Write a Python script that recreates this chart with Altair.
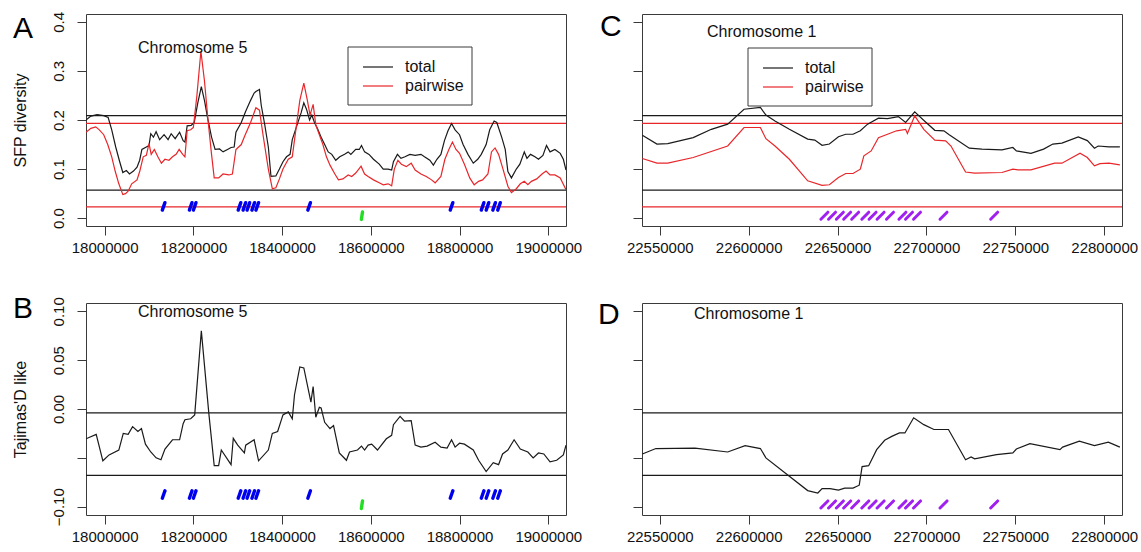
import altair as alt
import pandas as pd

FONT = "Liberation Sans"
BLACK = "#1a1a1a"
RED = "#e8262a"
BOX = "#3a3a3a"
W, H = 480, 212

# ---------------- Panel A (chromosome 5, SFP diversity) ----------------
a_total_pos = [17958000, 17969000, 17983000, 17998000, 18008000, 18016000, 18025000, 18033000, 18041000, 18049000,
               18056000, 18065000, 18073000, 18079000, 18084000, 18094000, 18100000, 18104000, 18110000, 18116000,
               18124000, 18134000, 18143000, 18150000, 18159000, 18169000, 18177000, 18181000, 18186000, 18195000,
               18202000, 18210000, 18218000, 18225000, 18232000, 18241000, 18249000, 18259000, 18267000, 18277000,
               18285000, 18292000, 18296000, 18308000, 18318000, 18329000, 18337000, 18341000, 18349000, 18353000,
               18361000, 18369000, 18375000, 18386000, 18394000, 18402000, 18410000, 18418000, 18423000, 18432000,
               18443000, 18449000, 18455000, 18462000, 18467000, 18473000, 18480000, 18488000, 18496000, 18504000,
               18512000, 18521000, 18530000, 18541000, 18549000, 18555000, 18566000, 18574000, 18579000, 18586000,
               18596000, 18606000, 18619000, 18628000, 18639000, 18647000, 18651000, 18660000, 18668000, 18677000,
               18688000, 18700000, 18713000, 18721000, 18733000, 18741000, 18749000, 18758000, 18766000, 18774000,
               18782000, 18790000, 18800000, 18808000, 18819000, 18831000, 18841000, 18849000, 18860000, 18868000,
               18878000, 18884000, 18895000, 18903000, 18909000, 18917000, 18928000, 18936000, 18946000, 18952000,
               18960000, 18970000, 18978000, 18988000, 18996000, 19004000, 19015000, 19027000, 19034000, 19040000]
a_total = [0.200, 0.208, 0.211, 0.209, 0.205, 0.180, 0.145, 0.118, 0.093, 0.097,
           0.090, 0.096, 0.104, 0.118, 0.140, 0.145, 0.148, 0.172, 0.165, 0.176,
           0.160, 0.170, 0.160, 0.172, 0.162, 0.175, 0.158, 0.155, 0.188, 0.189,
           0.195, 0.235, 0.268, 0.240, 0.205, 0.165, 0.140, 0.141, 0.135, 0.140,
           0.144, 0.145, 0.175, 0.195, 0.218, 0.240, 0.255, 0.258, 0.262, 0.230,
           0.190, 0.145, 0.085, 0.086, 0.100, 0.115, 0.125, 0.130, 0.160, 0.185,
           0.215, 0.235, 0.222, 0.200, 0.210, 0.195, 0.182, 0.165, 0.150, 0.135,
           0.130, 0.118, 0.125, 0.130, 0.135, 0.130, 0.140, 0.140, 0.148, 0.135,
           0.130, 0.120, 0.110, 0.100, 0.100, 0.098, 0.115, 0.130, 0.122, 0.125,
           0.130, 0.128, 0.130, 0.125, 0.118, 0.108, 0.120, 0.130, 0.158, 0.178,
           0.193, 0.180, 0.170, 0.150, 0.130, 0.112, 0.120, 0.130, 0.150, 0.180,
           0.198, 0.195, 0.165, 0.140, 0.095, 0.082, 0.100, 0.110, 0.135, 0.122,
           0.130, 0.125, 0.120, 0.128, 0.148, 0.135, 0.140, 0.132, 0.120, 0.098]

a_pair_pos = [17958000, 17969000, 17980000, 17988000, 17998000, 18007000, 18016000, 18024000, 18032000, 18041000,
              18047000, 18053000, 18061000, 18073000, 18079000, 18087000, 18094000, 18100000, 18105000, 18112000,
              18120000, 18128000, 18136000, 18145000, 18153000, 18161000, 18168000, 18176000, 18181000, 18186000,
              18194000, 18200000, 18208000, 18217000, 18225000, 18233000, 18241000, 18247000, 18257000, 18267000,
              18280000, 18288000, 18296000, 18308000, 18316000, 18329000, 18341000, 18349000, 18357000, 18369000,
              18378000, 18386000, 18394000, 18402000, 18414000, 18423000, 18431000, 18440000, 18449000, 18457000,
              18463000, 18470000, 18476000, 18484000, 18492000, 18500000, 18508000, 18519000, 18527000, 18537000,
              18549000, 18557000, 18566000, 18578000, 18586000, 18594000, 18606000, 18619000, 18628000, 18639000,
              18647000, 18653000, 18661000, 18669000, 18680000, 18691000, 18700000, 18713000, 18725000, 18737000,
              18745000, 18758000, 18767000, 18776000, 18784000, 18792000, 18800000, 18811000, 18823000, 18833000,
              18843000, 18852000, 18864000, 18872000, 18880000, 18888000, 18898000, 18909000, 18917000, 18928000,
              18937000, 18946000, 18954000, 18962000, 18974000, 18986000, 18995000, 19004000, 19015000, 19027000,
              19040000]
a_pair = [0.175, 0.183, 0.186, 0.180, 0.170, 0.150, 0.125, 0.095, 0.070, 0.048,
          0.050, 0.055, 0.070, 0.078, 0.095, 0.125, 0.128, 0.152, 0.130, 0.140,
          0.125, 0.112, 0.120, 0.118, 0.125, 0.130, 0.140, 0.130, 0.125, 0.178,
          0.180, 0.185, 0.250, 0.340, 0.280, 0.200, 0.130, 0.082, 0.082, 0.090,
          0.088, 0.090, 0.140, 0.150, 0.168, 0.195, 0.225, 0.220, 0.170, 0.100,
          0.060, 0.062, 0.080, 0.100, 0.120, 0.125, 0.180, 0.240, 0.275, 0.240,
          0.210, 0.232, 0.190, 0.170, 0.150, 0.125, 0.108, 0.090, 0.078, 0.080,
          0.088, 0.085, 0.092, 0.106, 0.090, 0.085, 0.078, 0.072, 0.068, 0.070,
          0.066, 0.100, 0.118, 0.110, 0.105, 0.112, 0.098, 0.090, 0.085, 0.078,
          0.072, 0.085, 0.120, 0.140, 0.155, 0.140, 0.132, 0.110, 0.082, 0.068,
          0.075, 0.078, 0.090, 0.135, 0.143, 0.130, 0.100, 0.065, 0.052, 0.060,
          0.070, 0.075, 0.068, 0.075, 0.080, 0.090, 0.096, 0.088, 0.088, 0.082,
          0.058]

# ---------------- Panel B (chromosome 5, Tajima's D like) ----------------
b_pos = [17958000, 17981000, 17996000, 18010000, 18032000, 18042000, 18053000, 18063000, 18075000, 18083000,
         18092000, 18104000, 18116000, 18127000, 18136000, 18153000, 18169000, 18177000, 18181000, 18194000,
         18203000, 18218000, 18235000, 18247000, 18257000, 18263000, 18285000, 18290000, 18300000, 18315000,
         18318000, 18337000, 18347000, 18369000, 18378000, 18390000, 18402000, 18414000, 18423000, 18428000,
         18440000, 18449000, 18465000, 18470000, 18476000, 18484000, 18488000, 18496000, 18508000, 18516000,
         18529000, 18545000, 18552000, 18570000, 18579000, 18586000, 18594000, 18602000, 18615000, 18635000,
         18647000, 18651000, 18666000, 18676000, 18691000, 18700000, 18713000, 18727000, 18745000, 18758000,
         18772000, 18782000, 18790000, 18800000, 18811000, 18831000, 18843000, 18860000, 18876000, 18888000,
         18897000, 18909000, 18923000, 18937000, 18954000, 18966000, 18978000, 18990000, 19004000, 19019000,
         19034000, 19040000]
b_taj = [-0.0305, -0.026, -0.053, -0.047, -0.042, -0.025, -0.026, -0.018, -0.023, -0.020,
         -0.036, -0.044, -0.050, -0.052, -0.041, -0.0315, -0.0315, -0.015, -0.011, -0.010,
         -0.006, 0.080, -0.005, -0.058, -0.058, -0.042, -0.057, -0.030, -0.037, -0.045,
         -0.037, -0.0315, -0.053, -0.042, -0.025, -0.023, -0.006, -0.003, -0.010, 0.0146,
         0.043, 0.042, 0.007, 0.023, -0.0085, 0.0017, 0.001, -0.0136, -0.020, -0.017,
         -0.045, -0.0525, -0.044, -0.042, -0.038, -0.042, -0.037, -0.036, -0.042, -0.0305,
         -0.027, -0.016, -0.0075, -0.0125, -0.012, -0.037, -0.039, -0.038, -0.034, -0.039,
         -0.040, -0.0315, -0.039, -0.035, -0.036, -0.042, -0.0525, -0.064, -0.055, -0.057,
         -0.046, -0.042, -0.0315, -0.041, -0.044, -0.050, -0.045, -0.046, -0.054, -0.0525,
         -0.047, -0.037]

# ---------------- Panel C (chromosome 1, SFP diversity) ----------------
c_total_pos = [22540200, 22548400, 22554500, 22568800, 22579000, 22588200, 22597400, 22606600, 22609700, 22614800,
               22622900, 22633200, 22637200, 22641300, 22645400, 22650500, 22654600, 22658700, 22662800, 22666900,
               22673000, 22678100, 22684200, 22688300, 22693400, 22699500, 22704700, 22709800, 22712800, 22724100,
               22731200, 22742500, 22748600, 22750600, 22758800, 22765900, 22771100, 22776200, 22785400, 22790500,
               22794500, 22796600, 22802700, 22808800]
c_total = [0.169, 0.151, 0.152, 0.164, 0.181, 0.1915, 0.222, 0.2255, 0.210, 0.198,
           0.181, 0.161, 0.159, 0.1485, 0.151, 0.166, 0.171, 0.171, 0.178, 0.1915,
           0.2037, 0.203, 0.207, 0.195, 0.2166, 0.196, 0.179, 0.178, 0.170, 0.1426,
           0.1406, 0.139, 0.144, 0.137, 0.132, 0.1406, 0.151, 0.153, 0.1657, 0.158,
           0.1426, 0.147, 0.1453, 0.1453]

c_pair_pos = [22540200, 22548400, 22554500, 22568800, 22588200, 22597400, 22606600, 22609700, 22614800, 22622900,
              22633200, 22641300, 22645400, 22650500, 22654600, 22658700, 22662800, 22664800, 22668900, 22673000,
              22678100, 22683200, 22688300, 22689300, 22693400, 22698500, 22704700, 22710800, 22713800, 22722000,
              22727100, 22742500, 22748600, 22751600, 22758800, 22772100, 22776200, 22786400, 22790500, 22794500,
              22797600, 22802700, 22808800]
c_pair = [0.1216, 0.112, 0.112, 0.1236, 0.147, 0.1847, 0.1847, 0.162, 0.147, 0.120,
          0.076, 0.067, 0.068, 0.083, 0.091, 0.091, 0.0998, 0.127, 0.137, 0.164,
          0.171, 0.178, 0.181, 0.1725, 0.2085, 0.181, 0.159, 0.1575, 0.147, 0.094,
          0.0917, 0.093, 0.0998, 0.0985, 0.0985, 0.112, 0.112, 0.1324, 0.1236, 0.1066,
          0.111, 0.112, 0.1087]

# ---------------- Panel D (chromosome 1, Tajima's D like) ----------------
d_pos = [22540200, 22547800, 22569800, 22588200, 22598000, 22606600, 22609700, 22620900, 22633200, 22638900,
         22641300, 22645800, 22650500, 22654000, 22658700, 22662200, 22663800, 22667500, 22672000, 22676500,
         22680500, 22684800, 22687900, 22692800, 22698500, 22704200, 22712400, 22722000, 22725100, 22727100,
         22739400, 22748600, 22750600, 22758200, 22775100, 22776600, 22786000, 22794500, 22802300, 22808800]
d_taj = [-0.046, -0.0405, -0.040, -0.044, -0.0375, -0.0405, -0.050, -0.066, -0.0835, -0.086,
         -0.0815, -0.0815, -0.083, -0.081, -0.081, -0.078, -0.059, -0.058, -0.0416, -0.032,
         -0.028, -0.0245, -0.0245, -0.009, -0.016, -0.021, -0.021, -0.052, -0.049, -0.051,
         -0.0467, -0.045, -0.041, -0.0354, -0.0416, -0.039, -0.033, -0.0375, -0.034, -0.039]

# reference lines
sfp_total_lines = [0.209, 0.057]
sfp_pair_lines = [0.193, 0.023]
taj_lines = [-0.004, -0.068]

# gene markers
chr5_blue_genes = [18133000, 18194000, 18203000, 18304000, 18315000, 18324000, 18335000, 18344000,
                   18461000, 18782000, 18852000, 18863000, 18878000, 18889000]
chr5_green_genes = [18580000]
chr1_purple_genes = [22642600, 22646900, 22651300, 22655400, 22659900, 22665600, 22669700, 22674200,
                     22679500, 22686500, 22690200, 22694700, 22709600, 22738100]

# axis settings
chr5_ticks = [18000000, 18200000, 18400000, 18600000, 18800000, 19000000]
chr1_ticks = [22550000, 22600000, 22650000, 22700000, 22750000, 22800000]
sfp_ticks = [0.0, 0.1, 0.2, 0.3, 0.4]
taj_ticks = [-0.10, -0.05, 0.0, 0.05, 0.10]

chr5_dom = [17958000, 19040000]
chr1_dom = [22540000, 22810000]
sfp_dom = [-0.016, 0.416]
taj_dom = [-0.1085, 0.1085]

one = pd.DataFrame({"k": [0]})


def x_enc(dom, ticks):
    return alt.X("pos:Q", scale=alt.Scale(domain=dom, nice=False, zero=False),
                 axis=alt.Axis(values=ticks, format="d", title=None, tickSize=9, labelPadding=5,
                               labelFontSize=15, labelFlush=False, labelOverlap=False))


def y_enc(dom, ticks, title, labels, fmt, label_expr=None):
    kw = dict(values=ticks, tickSize=9, labelFontSize=15, labelAngle=270, labelAlign="center",
              labelBaseline="bottom", labelPadding=11, labelOverlap=False, labels=labels,
              labelFlush=False)
    if labels:
        kw["format"] = fmt
        if label_expr:
            kw["labelExpr"] = label_expr
    if title:
        kw.update(title=title, titleFontSize=16, titleFontWeight="normal", titleColor="#111",
                  titleX=-66, titleY=H / 2, titleAngle=270, titleAlign="center", titleBaseline="middle")
    else:
        kw["title"] = None
    return alt.Y("val:Q", scale=alt.Scale(domain=dom, nice=False, zero=False), axis=alt.Axis(**kw))


def panel(series, hlines, genes, xdom, xticks, ydom, yticks, ytitle, ylabels, yfmt, chrom_text, chrom_xy,
          letter, letter_xy, legend_xy=None, anchor=False, label_expr=None):
    X = x_enc(xdom, xticks)
    Y = y_enc(ydom, yticks, ytitle, ylabels, yfmt, label_expr)
    layers = []
    for vals, color in hlines:
        layers.append(alt.Chart(pd.DataFrame({"val": vals})).mark_rule(color=color, strokeWidth=1.2)
                      .encode(y=Y))
    for xs, ys, color in series:
        layers.append(alt.Chart(pd.DataFrame({"pos": xs, "val": ys}))
                      .mark_line(color=color, strokeWidth=1.2, clip=True)
                      .encode(x=X, y=Y))
    for xs, yv, color, shape, size, sw in genes:
        layers.append(alt.Chart(pd.DataFrame({"pos": xs, "val": [yv] * len(xs)}))
                      .mark_point(shape=shape, filled=False, color=color, size=size, strokeWidth=sw,
                                  strokeCap="round", opacity=1)
                      .encode(x=X, y=Y))
    layers.append(alt.Chart(one).mark_text(align="left", baseline="middle", fontSize=16, color="#111",
                                           text=chrom_text)
                  .encode(x=alt.value(chrom_xy[0]), y=alt.value(chrom_xy[1])))
    layers.append(alt.Chart(one).mark_text(align="left", baseline="alphabetic", fontSize=30, color="#000",
                                           text=letter)
                  .encode(x=alt.value(letter_xy[0]), y=alt.value(letter_xy[1])))
    if legend_xy:
        lx, ly = legend_xy
        layers.append(alt.Chart(one).mark_rect(fill="white", stroke=BOX, strokeWidth=1)
                      .encode(x=alt.value(lx), x2=alt.value(lx + 124), y=alt.value(ly), y2=alt.value(ly + 58)))
        for i, (lab, col) in enumerate([("total", BLACK), ("pairwise", RED)]):
            yy = ly + 20 + 19 * i
            layers.append(alt.Chart(one).mark_rule(color=col, strokeWidth=1.2)
                          .encode(x=alt.value(lx + 15), x2=alt.value(lx + 45), y=alt.value(yy)))
            layers.append(alt.Chart(one).mark_text(align="left", baseline="middle", fontSize=16,
                                                   color="#111", text=lab)
                          .encode(x=alt.value(lx + 57), y=alt.value(yy)))
    if anchor:
        layers.append(alt.Chart(one).mark_rule(color="white", strokeWidth=1)
                      .encode(x=alt.value(-84.5), y=alt.value(-12.5), y2=alt.value(-11.5)))
    return alt.layer(*layers).properties(width=W, height=H)


blue_shape = "M -0.35 1 L 0.35 -1"
green_shape = "M -0.15 1 L 0.15 -1"
slash_shape = "M -1 1 L 1 -1"

pA = panel(
    series=[(a_total_pos, a_total, BLACK), (a_pair_pos, a_pair, RED)],
    hlines=[(sfp_total_lines, BLACK), (sfp_pair_lines, RED)],
    genes=[(chr5_blue_genes, 0.024, "#0000ee", blue_shape, 56, 3.4),
           (chr5_green_genes, 0.005, "#22dd22", green_shape, 56, 3.4)],
    xdom=chr5_dom, xticks=chr5_ticks, ydom=sfp_dom, yticks=sfp_ticks, ytitle="SFP diversity",
    ylabels=True, yfmt=".1f", chrom_text="Chromosome 5", chrom_xy=(52, 34),
    letter="A", letter_xy=(-73, 24), legend_xy=(262, 33), anchor=True)

pC = panel(
    series=[(c_total_pos, c_total, BLACK), (c_pair_pos, c_pair, RED)],
    hlines=[(sfp_total_lines, BLACK), (sfp_pair_lines, RED)],
    genes=[(chr1_purple_genes, 0.005, "#a020f0", slash_shape, 49, 3)],
    xdom=chr1_dom, xticks=chr1_ticks, ydom=sfp_dom, yticks=sfp_ticks, ytitle=None,
    ylabels=False, yfmt=".1f", chrom_text="Chromosome 1", chrom_xy=(65, 18),
    letter="C", letter_xy=(-42, 22), legend_xy=(106, 34))

pB = panel(
    series=[(b_pos, b_taj, BLACK)],
    hlines=[(taj_lines, BLACK)],
    genes=[(chr5_blue_genes, -0.0875, "#0000ee", blue_shape, 56, 3.4),
           (chr5_green_genes, -0.098, "#22dd22", green_shape, 56, 3.4)],
    xdom=chr5_dom, xticks=chr5_ticks, ydom=taj_dom, yticks=taj_ticks, ytitle="Tajimas'D like",
    ylabels=True, yfmt=".2f", chrom_text="Chromosome 5", chrom_xy=(52, 9),
    letter="B", letter_xy=(-73, 15),
    label_expr="datum.value == -0.05 ? '' : format(datum.value, '.2f')")

pD = panel(
    series=[(d_pos, d_taj, BLACK)],
    hlines=[(taj_lines, BLACK)],
    genes=[(chr1_purple_genes, -0.0977, "#a020f0", slash_shape, 49, 3)],
    xdom=chr1_dom, xticks=chr1_ticks, ydom=taj_dom, yticks=taj_ticks, ytitle=None,
    ylabels=False, yfmt=".2f", chrom_text="Chromosome 1", chrom_xy=(52, 11),
    letter="D", letter_xy=(-44, 21))

chart = alt.concat(pA, pC, pB, pD, columns=2, spacing={"row": 77, "column": 76}, bounds="flush").properties(
    padding=0, background="white"
).configure_view(stroke=BOX, strokeWidth=1).configure_axis(
    domain=False, grid=False, tickColor=BOX, tickWidth=1, labelColor="#111",
    labelFont=FONT, titleFont=FONT
).configure_text(font=FONT)

chart.save("out.html", embed_options={"renderer": "svg", "actions": False})
